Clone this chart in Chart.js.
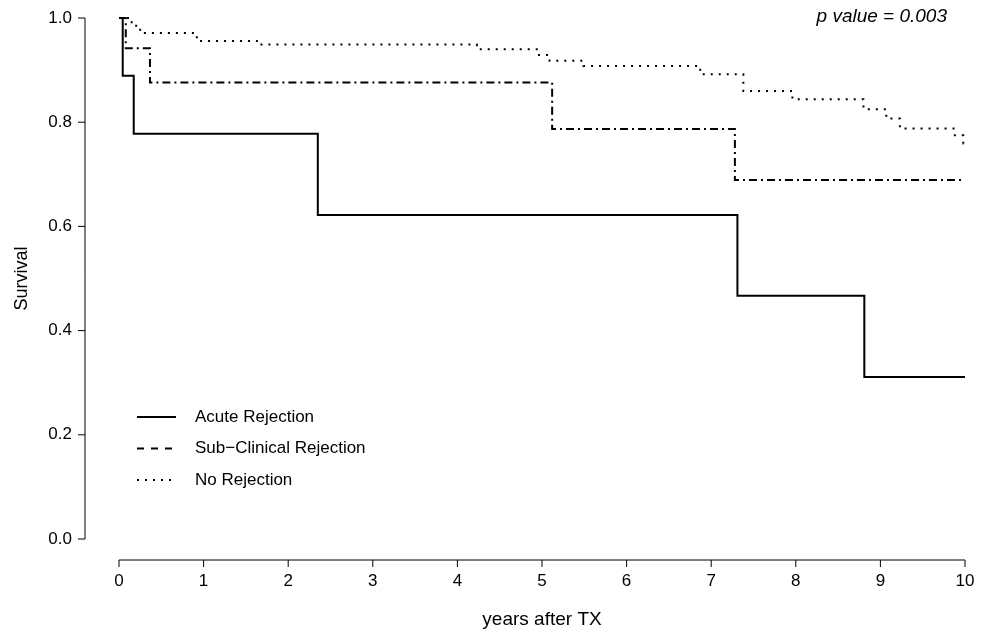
<!DOCTYPE html>
<html>
<head>
<meta charset="utf-8">
<script src="https://cdn.jsdelivr.net/npm/chart.js@4.4.1/dist/chart.umd.min.js"></script>
<style>
  html, body { margin: 0; padding: 0; background: #fff; }
  #wrap { width: 989px; height: 632px; position: relative; }
</style>
</head>
<body>
<div id="wrap"><canvas id="km"></canvas></div>
<script>
// Kaplan-Meier steps: time (years after TX) and survival after each drop
const acuteTime = [0, 0.044, 0.174, 2.35, 7.31, 8.81, 10];
const acuteSurv = [1, 0.889, 0.778, 0.622, 0.467, 0.311, 0.311];

const subTime = [0, 0.08, 0.366, 5.12, 7.28, 10];
const subSurv = [1, 0.942, 0.876, 0.787, 0.689, 0.689];

const noneTime = [0, 0.15, 0.25, 0.92, 1.63, 4.23, 4.95, 5.09, 5.49, 6.87, 7.38, 7.96, 8.80, 9.07, 9.23, 9.88, 9.98, 10];
const noneSurv = [1, 0.985, 0.971, 0.956, 0.949, 0.940, 0.929, 0.918, 0.908, 0.892, 0.860, 0.844, 0.825, 0.807, 0.788, 0.775, 0.759, 0.759];

const seriesNames = ['Acute Rejection', 'Sub\u2212Clinical Rejection', 'No Rejection'];
const xTickLabels = ['0', '1', '2', '3', '4', '5', '6', '7', '8', '9', '10'];
const yTickLabels = ['0.0', '0.2', '0.4', '0.6', '0.8', '1.0'];
const pValueText = 'p value = 0.003';

const FONT = "'Liberation Sans', Arial, Helvetica, sans-serif";

function toPoints(ts, ss) {
  return ts.map((t, i) => ({ x: t, y: ss[i] }));
}

function kmLine(label, ts, ss, dash) {
  return {
    label,
    data: toPoints(ts, ss),
    borderColor: '#000',
    borderWidth: 2,
    borderDash: dash,
    pointRadius: 0,
    stepped: true,
    fill: false,
    clip: false,
  };
}

// R style detached axes, legend box and p value
const rDecor = {
  id: 'rDecor',
  afterDraw(chart) {
    const { ctx, chartArea, scales: { x, y } } = chart;
    ctx.save();
    ctx.strokeStyle = '#000';
    ctx.lineWidth = 1;

    // y axis
    const ax = chartArea.left - 34;
    ctx.beginPath();
    ctx.moveTo(ax, y.getPixelForValue(0));
    ctx.lineTo(ax, y.getPixelForValue(1));
    yTickLabels.forEach((_, i) => {
      const py = y.getPixelForValue(i * 0.2);
      ctx.moveTo(ax, py);
      ctx.lineTo(ax - 7, py);
    });
    ctx.stroke();

    // x axis
    const ay = chartArea.bottom + 21;
    ctx.beginPath();
    ctx.moveTo(x.getPixelForValue(0), ay);
    ctx.lineTo(x.getPixelForValue(10), ay);
    xTickLabels.forEach((_, i) => {
      const px = x.getPixelForValue(i);
      ctx.moveTo(px, ay);
      ctx.lineTo(px, ay + 7);
    });
    ctx.stroke();

    // legend
    const dashes = [[], [7, 7], [2, 6]];
    ctx.font = '17px ' + FONT;
    ctx.fillStyle = '#000';
    ctx.textBaseline = 'middle';
    ctx.textAlign = 'left';
    seriesNames.forEach((name, i) => {
      const ly = 417 + i * 31.5;
      ctx.beginPath();
      ctx.setLineDash(dashes[i]);
      ctx.lineWidth = 2;
      ctx.moveTo(137, ly);
      ctx.lineTo(176, ly);
      ctx.stroke();
      ctx.setLineDash([]);
      ctx.fillText(name, 195, ly);
    });

    // p value
    ctx.font = 'italic 19px ' + FONT;
    ctx.textAlign = 'right';
    ctx.fillText(pValueText, 947, 17);
    ctx.restore();
  }
};

new Chart(document.getElementById('km'), {
  type: 'line',
  data: {
    datasets: [
      kmLine(seriesNames[0], acuteTime, acuteSurv, []),
      kmLine(seriesNames[1], subTime, subSurv, [8, 4, 2, 4]),
      kmLine(seriesNames[2], noneTime, noneSurv, [2, 6]),
    ],
  },
  options: {
    responsive: true,
    maintainAspectRatio: false,
    animation: false,
    layout: { padding: { top: 18, right: 24, left: 0, bottom: 0 } },
    plugins: { legend: { display: false }, tooltip: { enabled: false } },
    scales: {
      x: {
        type: 'linear',
        min: 0,
        max: 10,
        grid: { display: false, drawTicks: false },
        border: { display: false },
        ticks: {
          stepSize: 1,
          color: '#000',
          padding: 32,
          font: { family: FONT, size: 17 },
          callback: v => xTickLabels[v],
        },
        title: {
          display: true,
          text: 'years after TX',
          color: '#000',
          font: { family: FONT, size: 19 },
          padding: { top: 0, bottom: 1 },
        },
        afterFit: s => {
          s.height = 93;
          s.paddingLeft = 0;
          s.paddingRight = 0;
        },
      },
      y: {
        type: 'linear',
        min: 0,
        max: 1,
        grid: { display: false, drawTicks: false },
        border: { display: false },
        ticks: {
          stepSize: 0.2,
          color: '#000',
          padding: 47,
          font: { family: FONT, size: 17 },
          callback: v => yTickLabels[Math.round(v * 5)],
        },
        title: {
          display: true,
          text: 'Survival',
          color: '#000',
          font: { family: FONT, size: 18 },
          padding: { top: 11, bottom: 0 },
        },
        afterFit: s => {
          s.width = 119;
          s.paddingTop = 0;
          s.paddingBottom = 0;
        },
      },
    },
  },
  plugins: [rDecor],
});
</script>
</body>
</html>
